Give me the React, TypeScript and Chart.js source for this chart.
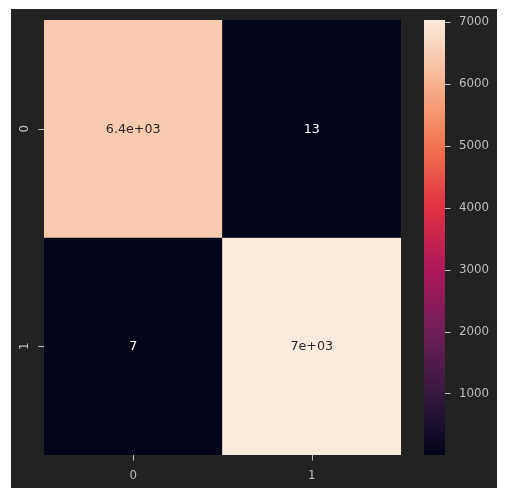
import React, { useEffect, useRef } from "react";
import { Chart, registerables } from "chart.js";

Chart.register(...registerables);

const X_LABELS = ["0", "1"];
const Y_LABELS = ["0", "1"];
const ROW_0 = [6430, 13];
const ROW_1 = [7, 7028];
const ROWS = [ROW_0, ROW_1];
const V_MIN = 7;
const V_MAX = 7028;
const COLORBAR_TICKS = [1000, 2000, 3000, 4000, 5000, 6000, 7000];

// seaborn "rocket" colormap anchors
const ROCKET: [number, string][] = [
  [0.0, "#03051A"],
  [1 / 7, "#35193E"],
  [2 / 7, "#701F57"],
  [3 / 7, "#AD1759"],
  [4 / 7, "#E13342"],
  [5 / 7, "#F37651"],
  [6 / 7, "#F6B48F"],
  [1.0, "#FAEBDD"],
];

function hexToRgb(h: string) {
  return [parseInt(h.slice(1, 3), 16), parseInt(h.slice(3, 5), 16), parseInt(h.slice(5, 7), 16)];
}

function rocketRgb(t: number) {
  t = Math.max(0, Math.min(1, t));
  for (let i = 0; i < ROCKET.length - 1; i++) {
    const [t0, c0] = ROCKET[i];
    const [t1, c1] = ROCKET[i + 1];
    if (t <= t1) {
      const f = (t - t0) / (t1 - t0);
      const a = hexToRgb(c0);
      const b = hexToRgb(c1);
      return [0, 1, 2].map((k) => Math.round(a[k] + (b[k] - a[k]) * f));
    }
  }
  return hexToRgb(ROCKET[ROCKET.length - 1][1]);
}

function colorFor(v: number) {
  const c = rocketRgb((v - V_MIN) / (V_MAX - V_MIN));
  return `rgb(${c[0]},${c[1]},${c[2]})`;
}

function isLight(v: number) {
  const c = rocketRgb((v - V_MIN) / (V_MAX - V_MIN)).map((x) => {
    const s = x / 255;
    return s <= 0.03928 ? s / 12.92 : Math.pow((s + 0.055) / 1.055, 2.4);
  });
  const lum = 0.2126 * c[0] + 0.7152 * c[1] + 0.0722 * c[2];
  return lum > 0.408;
}

function fmt2g(v: number) {
  let s = Number(v).toPrecision(2);
  if (s.includes("e")) {
    let [m, e] = s.split("e");
    if (m.includes(".")) m = m.replace(/0+$/, "").replace(/\.$/, "");
    const sign = e[0] === "-" ? "-" : "+";
    let digits = e.replace(/^[+-]/, "");
    if (digits.length < 2) digits = "0" + digits;
    return `${m}e${sign}${digits}`;
  }
  if (s.includes(".")) s = s.replace(/0+$/, "").replace(/\.$/, "");
  return s;
}

const TICK_COLOR = "#bfbfbf";
const FONT = '"DejaVu Sans", sans-serif';

const overlayPlugin = {
  id: "heatOverlay",
  afterDraw(chart: any) {
    const ctx = chart.ctx as CanvasRenderingContext2D;
    const xs = chart.scales.x;
    const ys = chart.scales.y;
    const cb = chart.scales.cb;
    const area = chart.chartArea;
    ctx.save();

    // annotations
    ctx.font = `12.7px ${FONT}`;
    ctx.textAlign = "center";
    ctx.textBaseline = "middle";
    ROWS.forEach((row, i) => {
      row.forEach((v, j) => {
        const x = xs.getPixelForValue(j);
        const y = ys.getPixelForValue(i + 0.5);
        ctx.fillStyle = isLight(v) ? "#262626" : "#ffffff";
        ctx.fillText(fmt2g(v), x, y + 0.5);
      });
    });

    ctx.strokeStyle = TICK_COLOR;
    ctx.fillStyle = TICK_COLOR;
    ctx.lineWidth = 1;
    ctx.font = `11.8px ${FONT}`;

    // x ticks
    X_LABELS.forEach((lab, j) => {
      const x = Math.round(xs.getPixelForValue(j)) + 0.5;
      ctx.beginPath();
      ctx.moveTo(x, area.bottom);
      ctx.lineTo(x, area.bottom + 5.5);
      ctx.stroke();
      ctx.textAlign = "center";
      ctx.textBaseline = "alphabetic";
      ctx.fillText(lab, xs.getPixelForValue(j), area.bottom + 24);
    });

    // y ticks
    Y_LABELS.forEach((lab, i) => {
      const y = Math.round(ys.getPixelForValue(i + 0.5)) + 0.5;
      ctx.beginPath();
      ctx.moveTo(area.left - 5.5, y);
      ctx.lineTo(area.left, y);
      ctx.stroke();
      ctx.save();
      ctx.translate(area.left - 16, ys.getPixelForValue(i + 0.5));
      ctx.rotate(-Math.PI / 2);
      ctx.textAlign = "center";
      ctx.textBaseline = "alphabetic";
      ctx.fillText(lab, 0, 0);
      ctx.restore();
    });

    // colorbar
    const cbLeft = area.right + 23;
    const cbWidth = 21;
    const top = cb.getPixelForValue(V_MAX);
    const bottom = cb.getPixelForValue(V_MIN);
    const grad = ctx.createLinearGradient(0, bottom, 0, top);
    for (let k = 0; k <= 64; k++) {
      const t = k / 64;
      const c = rocketRgb(t);
      grad.addColorStop(t, `rgb(${c[0]},${c[1]},${c[2]})`);
    }
    ctx.fillStyle = grad;
    ctx.fillRect(cbLeft, top, cbWidth, bottom - top);

    ctx.fillStyle = TICK_COLOR;
    ctx.textAlign = "left";
    ctx.textBaseline = "middle";
    COLORBAR_TICKS.forEach((t) => {
      const y = Math.round(cb.getPixelForValue(t)) + 0.5;
      ctx.beginPath();
      ctx.moveTo(cbLeft + cbWidth, y);
      ctx.lineTo(cbLeft + cbWidth + 5.5, y);
      ctx.stroke();
      ctx.fillText(String(t), cbLeft + cbWidth + 14, cb.getPixelForValue(t) + 0.5);
    });

    ctx.restore();
  },
};

export default function App() {
  const ref = useRef<HTMLCanvasElement | null>(null);

  useEffect(() => {
    if (!ref.current) return;
    const chart = new Chart(ref.current, {
      type: "bar",
      data: {
        labels: X_LABELS,
        datasets: ROWS.map((row, i) => ({
          label: Y_LABELS[i],
          data: row.map(() => 1),
          backgroundColor: row.map((v) => colorFor(v)),
          borderWidth: 0,
          barPercentage: 1,
          categoryPercentage: 1,
          yAxisID: "y",
        })),
      },
      options: {
        animation: false,
        responsive: false,
        devicePixelRatio: 1,
        layout: { padding: { left: 44, top: 20, right: 112, bottom: 46 } },
        plugins: { legend: { display: false }, tooltip: { enabled: false } },
        scales: {
          x: { type: "category", stacked: true, display: false, offset: true },
          y: { type: "linear", stacked: true, display: false, min: 0, max: 2, reverse: true },
          cb: { type: "linear", display: false, min: V_MIN, max: V_MAX, position: "right" },
        },
      },
      plugins: [overlayPlugin],
    });
    return () => chart.destroy();
  }, []);

  return (
    <div style={{ position: "absolute", left: 0, top: 0, width: 513, height: 501, background: "#ffffff" }}>
      <div style={{ position: "absolute", left: 11, top: 9, width: 486, height: 479, background: "#222222" }} />
      <canvas ref={ref} width={513} height={501} style={{ position: "absolute", left: 0, top: 0 }} />
    </div>
  );
}
